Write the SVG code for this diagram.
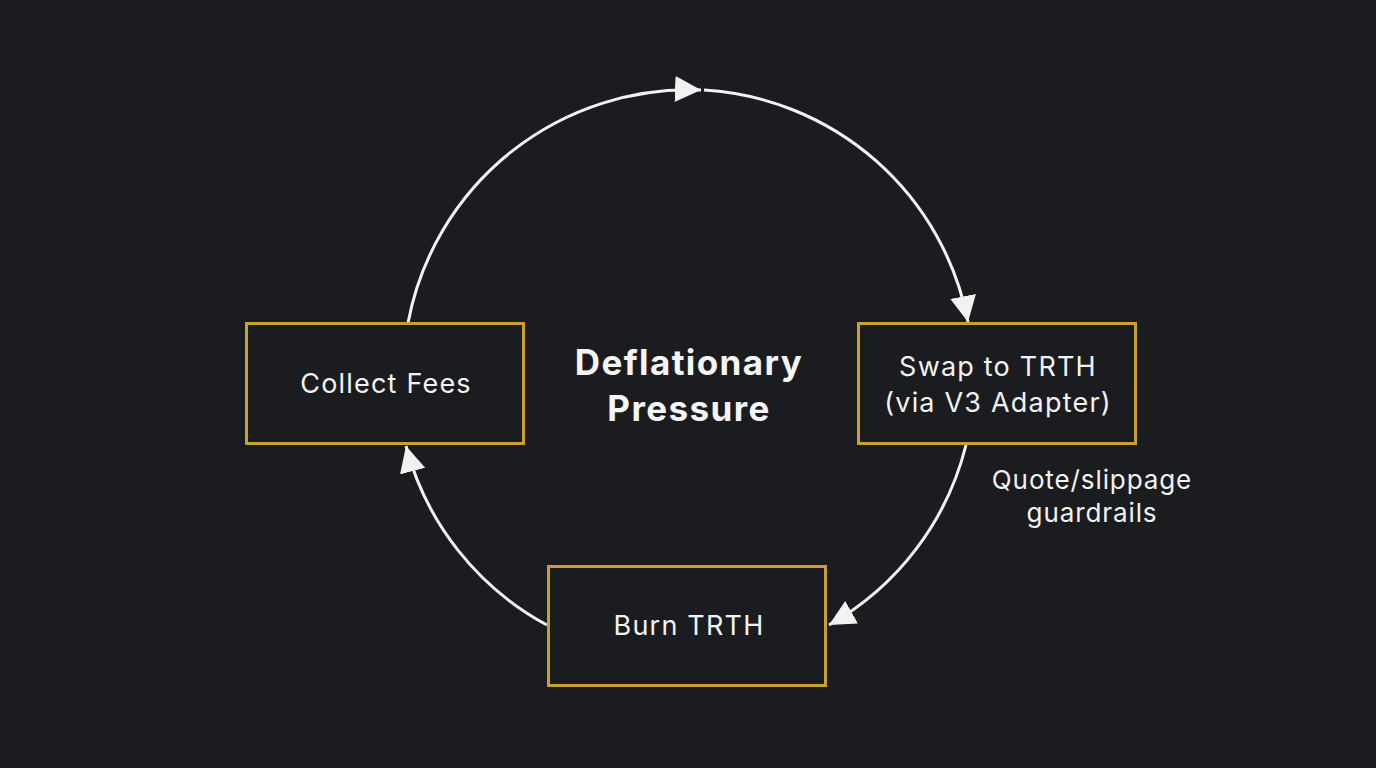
<svg xmlns="http://www.w3.org/2000/svg" width="1376" height="768" viewBox="0 0 1376 768">
<style>
.bg{fill:#1b1c20}
.box{fill:#1b1c20;stroke:#c9a030;stroke-width:3}
.lbl{font-family:Inter,"Noto Sans",sans-serif;font-size:27px;letter-spacing:1.2px;fill:#f2f2f2;text-anchor:middle}
.title{font-family:Inter,"Noto Sans",sans-serif;font-size:35px;letter-spacing:1.4px;font-weight:700;fill:#f5f5f5;text-anchor:middle}
.note{font-family:Inter,"Noto Sans",sans-serif;font-size:26px;letter-spacing:0.9px;fill:#f2f2f2;text-anchor:middle}
.arc{fill:none;stroke:#f2f2f2;stroke-width:3;marker-end:url(#ah)}
</style>
<defs>
<marker id="ah" markerUnits="userSpaceOnUse" markerWidth="30" markerHeight="28" refX="26" refY="13" orient="auto">
<path d="M0,0 L26,13 L0,26 Z" fill="#f2f2f2"/>
</marker>
</defs>
<rect class="bg" x="0" y="0" width="1376" height="768"/>
<g id="connectors">
<path class="arc" d="M408,323 A286,286 0 0 1 701,90"/>
<path class="arc" d="M704,90 A286,286 0 0 1 968,322"/>
<path class="arc" d="M966,445 A286,286 0 0 1 829,625"/>
<path class="arc" d="M547,625 A286,286 0 0 1 406,446"/>
</g>
<g id="collect">
<rect class="box" x="246.5" y="323.5" width="277" height="120"/>
<text class="lbl" x="386" y="393">Collect Fees</text>
</g>
<g id="swap">
<rect class="box" x="858.5" y="323.5" width="277" height="120"/>
<text class="lbl" x="998" y="376">Swap to TRTH</text>
<text class="lbl" x="998" y="412">(via V3 Adapter)</text>
</g>
<g id="burn">
<rect class="box" x="548.5" y="566.5" width="277" height="119"/>
<text class="lbl" x="689" y="635">Burn TRTH</text>
</g>
<g id="center">
<text class="title" x="689" y="375">Deflationary</text>
<text class="title" x="689" y="421">Pressure</text>
</g>
<g id="guardrails">
<text class="note" x="1092" y="489">Quote/slippage</text>
<text class="note" x="1092" y="522">guardrails</text>
</g>
</svg>
